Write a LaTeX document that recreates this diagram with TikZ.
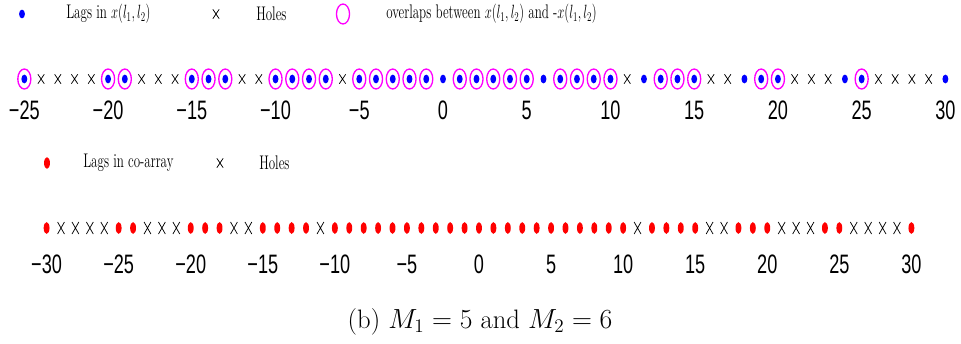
\documentclass[tikz,border=0pt]{standalone}
\usepackage{fontspec}
\usetikzlibrary{shapes.geometric,shapes.misc}
\newfontfamily\axisfont{Liberation Sans}
\definecolor{lagblue}{RGB}{0,0,255}
\definecolor{lagred}{RGB}{255,0,0}
\definecolor{overlap}{RGB}{255,0,255}
\newcommand{\squeeze}[1]{\scalebox{.66}[1]{\fontsize{14.8}{16}\selectfont #1}}
\newcommand{\ticklab}[1]{\scalebox{.68}[1]{\axisfont\fontsize{20}{22}\selectfont #1}}
\newcommand{\lagnum}[1]{\ifnum#1<0 −\the\numexpr-#1\relax\else#1\fi}

\tikzset{
  lagdot/.style={ellipse,fill=lagblue,inner sep=0pt,minimum width=4.4pt,minimum height=6.6pt},
  codot/.style={ellipse,fill=lagred,inner sep=0pt,minimum width=4.4pt,minimum height=8.8pt},
  hole/.style={cross out,draw=black,line width=.55pt,inner sep=0pt,minimum width=4.2pt,minimum height=6.5pt},
  bighole/.style={hole,minimum width=4.6pt,minimum height=8.5pt},
  ring/.style={ellipse,draw=overlap,line width=1pt,inner sep=0pt,minimum width=9.8pt,minimum height=15pt},
  legtext/.style={anchor=west,inner sep=0pt},
}

\begin{document}
\begin{tikzpicture}[x=0.75pt,y=-0.75pt]
  \useasboundingbox (0,0) rectangle (961,343);

  % legend of the upper axis
  \node[lagdot] (legdot) at (22,14) {};
  \node[legtext] (legdottext) at (66,14) {\squeeze{Lags in $x(l_1,l_2)$}};
  \node[hole] (leghole) at (216,14) {};
  \node[legtext] (legholetext) at (256,14) {\squeeze{Holes}};
  \node[ring] (legring) at (343,14) {};
  \node[legtext] (legringtext) at (386,14) {\squeeze{overlaps between $x(l_1,l_2)$ and -$x(l_1,l_2)$}};

  % upper axis: lags of x(l1,l2)
  \begin{scope}[shift={(443,79)},x=12.56pt]
    \foreach \n in {-25,-20,-19,-15,-14,-13,-10,-9,-8,-7,-5,-4,-3,-2,-1,
                    1,2,3,4,5,7,8,9,10,13,14,15,19,20,25}
      \node[ring] (r\n) at (\n,0) {};
    \foreach \n in {-25,-20,-19,-15,-14,-13,-10,-9,-8,-7,-5,-4,-3,-2,-1,0,
                    1,2,3,4,5,6,7,8,9,10,12,13,14,15,18,19,20,24,25,30}
      \node[lagdot] (u\n) at (\n,0) {};
    \foreach \n in {-24,-23,-22,-21,-18,-17,-16,-12,-11,-6,
                    11,16,17,21,22,23,26,27,28,29}
      \node[hole] (uh\n) at (\n,0) {};
    \foreach \n in {-25,-20,...,30}
      \node[inner sep=0pt] (ut\n) at (\n,31) {\ticklab{\lagnum{\n}}};
  \end{scope}

  % legend of the co-array
  \node[codot] (legco) at (47,163) {};
  \node[legtext] (legcotext) at (83,163) {\squeeze{Lags in co-array}};
  \node[hole] (legcohole) at (220,163) {};
  \node[legtext] (legcoholetext) at (259,163) {\squeeze{Holes}};

  % lower axis: co-array
  \begin{scope}[shift={(479,228)},x=10.81pt]
    \foreach \n in {-30,-25,-24,-20,-19,-18,-15,-14,-13,-12,
                    -10,-9,-8,-7,-6,-5,-4,-3,-2,-1,0,1,2,3,4,5,6,7,8,9,10,
                    12,13,14,15,18,19,20,24,25,30}
      \node[codot] (c\n) at (\n,0) {};
    \foreach \n in {-29,-28,-27,-26,-23,-22,-21,-17,-16,-11,
                    11,16,17,21,22,23,26,27,28,29}
      \node[bighole] (ch\n) at (\n,0) {};
    \foreach \n in {-30,-25,...,30}
      \node[inner sep=0pt] (ct\n) at (\n,36) {\ticklab{\lagnum{\n}}};
  \end{scope}

  \node (caption) at (480,322) {\fontsize{20}{24}\selectfont (b) $M_1 = 5$ and $M_2 = 6$};
\end{tikzpicture}
\end{document}
